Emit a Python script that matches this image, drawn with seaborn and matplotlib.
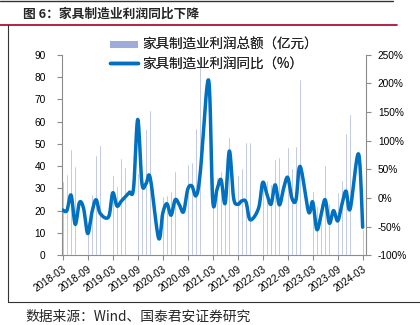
import numpy as np
import pandas as pd
import matplotlib
matplotlib.use("Agg")
import matplotlib.pyplot as plt
import matplotlib.transforms as mtransforms
from matplotlib.lines import Line2D
from matplotlib.patches import Patch
import seaborn as sns

# Monthly furniture-manufacturing profit, 2018-03 .. 2024-03 (January not published)
months = pd.period_range("2018-03", "2024-03", freq="M")
profit_total = [  # 亿元
    33.5, 36.5, 47.5, 40.0, 30.5, 36.5, 15.5, 27.5, 45.0, 49.5,            # 2018-03..12
    None, 46.0, 36.0, 31.0, 43.5, 39.5, 33.0, 43.0, 37.0, 36.0, 56.5, 65.0,  # 2019
    None, 8.0, 26.5, 27.0, 29.0, 38.0, 29.0, 32.0, 41.0, 42.0, 57.0, 86.0,   # 2020
    None, 42.5, 35.0, 35.0, 38.0, 35.0, 53.0, 36.0, 36.0, 39.0, 51.0, 51.0,  # 2021
    None, 36.0, 31.5, 34.0, 32.0, 43.0, 44.0, 39.5, 48.5, 39.0, 49.0, 79.0,  # 2022
    None, 27.0, 29.0, 22.0, 23.5, 40.5, 23.5, 30.5, 28.5, 34.0, 55.0, 63.5,  # 2023
    None, 47.0, 12.0,                                                        # 2024
]
profit_yoy = [  # %
    -21, -22, 5, -46, -8, -18, -62, -25, -3, -27,
    None, -33, 9, -14, -6, 2, 10, 17, 137, 26, 25, 35,
    None, -70, -27, -10, -30, -3, -12, -24, 15, 21, 4, 43,
    None, 206, -4, 14, 32, -9, 82, 1, -11, -5, -7, -38,
    None, -18, 27, 7, -11, 23, -12, 16, 36, 0, -3, 55,
    None, -24, -7, -55, -30, -3, -44, -22, -40, -12, 12, -19,
    None, 77, -51,
]
tick_labels = ["2018-03", "2018-09", "2019-03", "2019-09", "2020-03", "2020-09",
               "2021-03", "2021-09", "2022-03", "2022-09", "2023-03", "2023-09",
               "2024-03"]
left_ticks = [0, 10, 20, 30, 40, 50, 60, 70, 80, 90]
right_ticks = [-100, -50, 0, 50, 100, 150, 200, 250]
legend_labels = ["家具制造业利润总额（亿元）", "家具制造业利润同比（%）"]
title_text = "图 6：家具制造业利润同比下降"
source_text = "数据来源：Wind、国泰君安证券研究"

BAR_COLOR = "#9FABD8"
LINE_COLOR = "#0070C0"
AXIS_GRAY = "#8C8C8C"
CJK = ["Noto Sans CJK SC", "DejaVu Sans"]

sns.set_theme(style="white")
plt.rcParams["font.family"] = ["Liberation Sans", "Noto Sans CJK SC", "DejaVu Sans"]

df = pd.DataFrame({"idx": np.arange(len(months)),
                   "total": pd.array(profit_total, dtype="Float64"),
                   "yoy": pd.array(profit_yoy, dtype="Float64")})
bars = df.dropna(subset=["total"]).astype({"total": float})
pts = df.dropna(subset=["yoy"]).astype({"yoy": float})


def smooth_path(x, y, n=16):
    """Bezier smoothing in the style of office chart 'smoothed line'."""
    P = np.column_stack([np.asarray(x, float), np.asarray(y, float)])
    out = [P[0]]
    t = np.linspace(0, 1, n + 1)[1:][:, None]
    for i in range(len(P) - 1):
        p0 = P[i - 1] if i > 0 else P[i]
        p1, p2 = P[i], P[i + 1]
        p3 = P[i + 2] if i + 2 < len(P) else P[i + 1]
        c1 = p1 + (p2 - p0) / 6.0
        c2 = p2 - (p3 - p1) / 6.0
        seg = ((1 - t) ** 3) * p1 + 3 * ((1 - t) ** 2) * t * c1 \
            + 3 * (1 - t) * t ** 2 * c2 + t ** 3 * p2
        out.extend(seg)
    out = np.array(out)
    return out[:, 0], out[:, 1]


W, H = 420, 325
fig = plt.figure(figsize=(W / 100, H / 100), dpi=100)
renderer = fig.canvas.get_renderer()


def size_for_width(text, target_px, **kw):
    """Font size (pt) at which `text` is target_px wide."""
    probe = fig.text(0, 0, text, fontsize=10, **kw)
    w = probe.get_window_extent(renderer).width
    probe.remove()
    return 10 * target_px / w


ax = fig.add_axes([61.7 / W, 1 - 255.3 / H, (366 - 61.7) / W, (255.3 - 54.7) / H])

sns.barplot(data=bars, x="idx", y="total", native_scale=True, width=0.42,
            color=BAR_COLOR, saturation=1, ax=ax, zorder=2)
ax.set_xlim(-0.25, 72.8)
ax.set_ylim(0, 90)
ax.set_yticks(left_ticks)
ax.set_yticklabels([str(v) for v in left_ticks])
ax.set_xticks(np.arange(0, 73, 6))
ax.set_xticklabels(tick_labels, rotation=35, ha="right", va="top",
                   rotation_mode="anchor")
shift = mtransforms.ScaledTranslation(-7 / 100, -8 / 100, fig.dpi_scale_trans)
for lab in ax.get_xticklabels():
    lab.set_transform(lab.get_transform() + shift)
ax.set_xlabel("")
ax.set_ylabel("")

ax2 = ax.twinx()
sx, sy = smooth_path(pts["idx"], pts["yoy"])
sns.lineplot(x=sx, y=sy, sort=False, estimator=None, color=LINE_COLOR,
             linewidth=2.5, ax=ax2)
ax2.set_ylim(-100, 250)
ax2.set_yticks(right_ticks)
ax2.set_yticklabels([f"{v}%" for v in right_ticks])
ax2.set_ylabel("")

for a in (ax, ax2):
    a.spines["top"].set_visible(False)
    for s in ("left", "right", "bottom"):
        a.spines[s].set_color(AXIS_GRAY)
        a.spines[s].set_linewidth(0.8)
    a.grid(False)
ax.spines["right"].set_visible(False)
ax2.spines["left"].set_visible(False)
ax2.spines["bottom"].set_visible(False)

ax.tick_params(axis="y", direction="out", length=3.5, width=0.8, color=AXIS_GRAY,
               pad=8, labelsize=7.3, labelcolor="black", left=True)
ax.tick_params(axis="x", direction="out", length=3.5, width=0.8, color=AXIS_GRAY,
               pad=3, labelsize=7.3, labelcolor="black", bottom=True)
ax2.tick_params(axis="y", direction="out", length=3.5, width=0.8, color=AXIS_GRAY,
                pad=5, labelsize=7.3, labelcolor="black", right=True)

# legend: one entry per row, placed above the plot
leg_size = size_for_width(legend_labels[0], 176, family=CJK)
leg_px = leg_size * 100 / 72
handles = [Patch(facecolor=BAR_COLOR, edgecolor="none"),
           Line2D([], [], color=LINE_COLOR, linewidth=2.5)]
for h, lab, yc in zip(handles, legend_labels, (45, 63.5)):
    lg = fig.legend([h], [lab], loc="center left",
                    bbox_to_anchor=(110 / W, 1 - yc / H), frameon=False,
                    borderpad=0, borderaxespad=0, handlelength=28 / leg_px,
                    handleheight=0.4, handletextpad=4 / leg_px,
                    prop={"family": CJK, "size": leg_size})
    fig.add_artist(lg)

# title, source and frame rules
title_size = size_for_width(title_text, 176, family=CJK, fontweight="bold")
fig.text(23 / W, 1 - 14 / H, title_text, family=CJK, fontsize=title_size,
         fontweight="bold", va="center", ha="left")
src_size = size_for_width(source_text, 226, family=CJK)
fig.text(25 / W, 1 - 316.5 / H, source_text, family=CJK, fontsize=src_size,
         va="center", ha="left")
fig.add_artist(Line2D([0, 393 / W], [1 - 0.6 / H, 1 - 0.6 / H], color="#333333", lw=1.0))
fig.add_artist(Line2D([0, 397 / W], [1 - 25 / H, 1 - 25 / H], color="#A50021", lw=1.2))
fig.add_artist(Line2D([8 / W, 8 / W], [1 - 25 / H, 1 - 302 / H], color="#333333", lw=0.8))
fig.add_artist(Line2D([8 / W, 1.0], [1 - 302 / H, 1 - 302 / H], color="#333333", lw=0.8))

fig.savefig("out.png", dpi=100)
